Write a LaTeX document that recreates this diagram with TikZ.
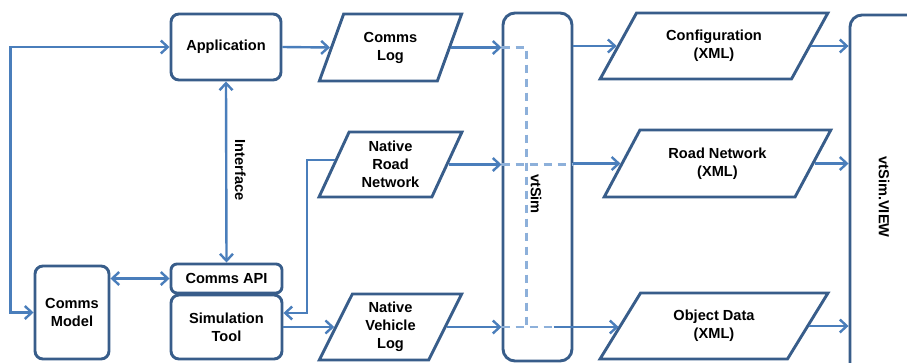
\documentclass[tikz,border=0pt]{standalone}
\usepackage{fontspec}
\setmainfont{Liberation Sans}
\usetikzlibrary{arrows.meta,shapes.geometric,calc}
\definecolor{boxc}{RGB}{56,93,138}
\definecolor{arrc}{RGB}{74,126,187}
\definecolor{dashc}{RGB}{141,176,218}
\begin{document}
\begin{tikzpicture}[x=1pt,y=-1pt,
  font=\fontsize{14.6}{18}\selectfont\bfseries,
  box/.style={draw=boxc,line width=2.9pt,rounded corners=8pt,align=center,inner sep=0pt},
  para/.style={draw=boxc,line width=2.9pt,trapezium,trapezium stretches=true,align=center,inner sep=1pt},
  conn/.style={draw=arrc,line width=2.4pt,-{Straight Barb[length=7pt,width=13pt]}},
  dconn/.style={draw=arrc,line width=2.4pt,{Straight Barb[length=7pt,width=13pt]}-{Straight Barb[length=7pt,width=13pt]}},
  dashl/.style={draw=dashc,line width=2.4pt,dash pattern=on 8pt off 6pt}]
\clip (0,0) rectangle (907,362);
\fill[white] (0,0) rectangle (907,362);
% boxes
\node[box,minimum width=110pt,minimum height=66pt] (app) at (226,47) {Application};
\node[box,rounded corners=6pt,minimum width=111pt,minimum height=29pt] (capi) at (226.5,278.5) {Comms API};
\node[box,minimum width=111pt,minimum height=64pt] (sim) at (226.5,327) {Simulation\\Tool};
\node[box,minimum width=74pt,minimum height=93pt] (cmodel) at (72,312.5) {Comms\\Model};
\node[box,rounded corners=12pt,minimum width=69pt,minimum height=348pt] (vtsim) at (537.5,187) {};
\node[rotate=-90] (vtsimlbl) at (536,194) {vtSim};
\node[box,rounded corners=12pt,minimum width=80pt,minimum height=375pt] (view) at (890,202.5) {};
\node[rotate=-90] (viewlbl) at (884,197) {vtSim.VIEW};
% parallelograms
\node[para,trapezium left angle=66.6,trapezium right angle=113.4,minimum width=143pt,minimum height=67pt] (clog) at (390.5,47.5) {Comms\\Log};
\node[para,trapezium left angle=66.0,trapezium right angle=114.0,minimum width=143pt,minimum height=65pt] (nrn) at (390.5,164.5) {Native\\Road\\Network};
\node[para,trapezium left angle=66.3,trapezium right angle=113.7,minimum width=143pt,minimum height=66pt] (nvl) at (390.5,327) {Native\\Vehicle\\Log};
\node[para,trapezium left angle=55.7,trapezium right angle=124.3,minimum width=228pt,minimum height=66pt] (config) at (714,46) {Configuration\\(XML)};
\node[para,trapezium left angle=55.5,trapezium right angle=124.5,minimum width=227pt,minimum height=67pt] (rn) at (717.5,163.5) {Road Network\\(XML)};
\node[para,trapezium left angle=55.7,trapezium right angle=124.3,minimum width=228pt,minimum height=66pt] (od) at (714,326) {Object Data\\(XML)};
% connectors left part
\draw[dconn] (cmodel.west) -- ++(-23,0) |- (app.west);
\draw[conn] (app.east) -- (clog.left side);
\draw[dconn] (app.south) -- (capi.north);
\node[rotate=-90] (intlbl) at ($(app.south)!0.5!(capi.north)+(14,-2)$) {Interface};
\draw[dconn] (capi.west -| cmodel.east) -- (capi.west);
\coordinate (nrnL) at ($(nrn.bottom left corner)!0.57!(nrn.top left corner)$);
\draw[conn] (nrnL) -- ++(-28,0) |- ($(sim.east)+(0,-14)$);
\draw[conn] (sim.east) -- (nvl.left side);
% into vtSim
\draw[conn] (clog.right side) -- (clog.right side -| vtsim.west);
\draw[conn] (nrn.right side) -- (nrn.right side -| vtsim.west);
\draw[conn] (nvl.right side) -- (nvl.right side -| vtsim.west);
% dashed inside vtSim
\draw[dashl] (clog.right side -| vtsim.west) -- ++(25,0) coordinate (dtop) -- (dtop |- nvl.right side);
\draw[dashl] (nrn.right side -| vtsim.west) -- (nrn.right side -| vtsim.east);
\draw[dashl] (nvl.right side -| vtsim.west) -- ++(52,0) coordinate (dbot);
% out of vtSim
\draw[conn] (vtsim.east |- config.left side) -- (config.left side);
\draw[conn] (vtsim.east |- rn.left side) -- (rn.left side);
\draw[conn] (dbot) -- (dbot -| od.left side);
% into vtSim.VIEW
\draw[conn] (config.right side) -- (config.right side -| view.west);
\draw[conn] (rn.right side) -- (rn.right side -| view.west);
\draw[conn] (od.right side) -- (od.right side -| view.west);
\end{tikzpicture}
\end{document}
